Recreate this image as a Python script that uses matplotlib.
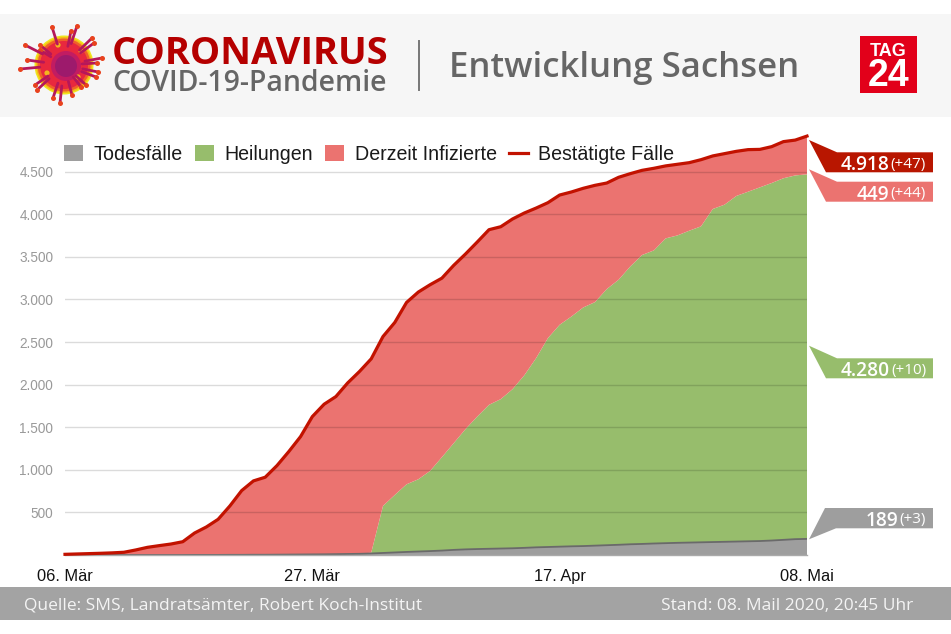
"""Corona-Entwicklung Sachsen: gestapelte Flaechen mit Kopfzeile und Wertefahnen."""

import matplotlib
matplotlib.use("Agg")
import matplotlib.pyplot as plt
import numpy as np
import pandas as pd
from matplotlib.patches import Circle, Polygon, Rectangle

# Tageswerte ab 06. Maerz 2020
deaths = [0, 0, 0, 0, 0, 0, 0, 0, 0, 0, 0, 1, 1, 1, 2, 2, 3, 3, 4, 5, 6, 7,
          8, 10, 12, 14, 18, 24, 30, 36, 41, 46, 52, 60, 66, 70, 73, 76, 79, 84,
          90, 94, 98, 102, 105, 110, 115, 120, 126, 130, 135, 139, 143, 146,
          149, 152, 155, 158, 161, 164, 170, 178, 186, 189]
recovered = [0, 0, 0, 0, 0, 0, 0, 0, 0, 0, 0, 0, 0, 0, 0, 0, 0, 0, 0, 0, 0, 0,
             0, 0, 0, 0, 9, 552, 675, 794, 848, 941, 1096, 1252, 1411, 1555,
             1690, 1754, 1868, 2026, 2221, 2452, 2605, 2698, 2801, 2859, 3007,
             3111, 3262, 3392, 3441, 3578, 3609, 3661, 3709, 3910, 3958, 4057,
             4104, 4152, 4197, 4245, 4270, 4280]
confirmed = [8, 12, 16, 20, 25, 32, 59, 90, 110, 129, 156, 258, 329, 419, 576,
             756, 870, 913, 1050, 1214, 1390, 1625, 1770, 1860, 2020, 2154,
             2303, 2565, 2730, 2965, 3087, 3173, 3250, 3400, 3533, 3674, 3819,
             3854, 3945, 4015, 4073, 4136, 4226, 4262, 4305, 4340, 4367, 4434,
             4477, 4516, 4540, 4568, 4587, 4606, 4641, 4685, 4712, 4739, 4759,
             4762, 4794, 4853, 4871, 4918]

y_ticks = [500, 1000, 1500, 2000, 2500, 3000, 3500, 4000, 4500]
y_tick_labels = ["500", "1.000", "1.500", "2.000", "2.500", "3.000", "3.500", "4.000", "4.500"]
x_tick_dates = ["2020-03-06", "2020-03-27", "2020-04-17", "2020-05-08"]
x_tick_labels = ["06. Mär", "27. Mär", "17. Apr", "08. Mai"]

DARK_RED = "#b81600"
LINE_RED = "#c21200"
PINK = "#eb7370"
GREEN = "#97bd6c"
GREY = "#9e9e9e"
TEXT_GREY = "#666666"

dates = pd.date_range("2020-03-06", periods=len(confirmed))
infected = np.array(confirmed) - np.array(deaths) - np.array(recovered)

fig = plt.figure(figsize=(9.51, 6.34), dpi=100, facecolor="white")

# Ebene in Pixelkoordinaten fuer Kopf, Fuss und Fahnen
bg = fig.add_axes([0, 0, 1, 1])
bg.set_xlim(0, 951)
bg.set_ylim(634, 0)
bg.axis("off")

bg.add_patch(Rectangle((0, 14), 951, 103, color="#f6f6f6", lw=0))
bg.add_patch(Rectangle((0, 587), 951, 33, color="#a3a3a3", lw=0))
bg.text(24, 603.5, "Quelle: SMS, Landratsämter, Robert Koch-Institut", family="Open Sans",
        fontsize=12.55, color="#f4f4f4", va="center_baseline")
bg.text(913, 603.5, "Stand: 08. Mail 2020, 20:45 Uhr", family="Open Sans",
        fontsize=12.55, color="#f4f4f4", ha="right", va="center_baseline")

bg.text(112, 64, "CORONAVIRUS", family="Open Sans", weight="bold", fontsize=27.4, color="#b50000")
bg.text(112, 91, "COVID-19-Pandemie", family="Open Sans", weight="semibold", fontsize=20.4, color=TEXT_GREY)
bg.plot([418.5, 418.5], [41, 90], color="#777777", lw=1.4)
bg.text(449, 77, "Entwicklung Sachsen", family="Open Sans", weight="semibold", fontsize=25.05, color=TEXT_GREY)

# TAG24-Logo
bg.add_patch(Rectangle((860, 36), 57, 57, color="#e2001a", lw=0))
bg.text(888.5, 56, "TAG", family="Liberation Sans", weight="bold", fontsize=13, color="white",
        ha="center", va="baseline")
bg.text(888.5, 86, "24", family="Liberation Sans", weight="bold", fontsize=27, color="white",
        ha="center", va="baseline")

# Virus-Logo
vx, vy = 64, 65
spike_tips = [(40, 45), (40, 50), (52, 27), (77, 26), (71, 31), (92, 38), (94, 43), (102, 58), (97, 63),
              (98, 72), (96, 77), (86, 85), (81, 87), (72, 95), (60, 103), (53, 98), (35, 85),
              (37, 90), (20, 69), (27, 60), (25, 45)]
for x2, y2 in spike_tips:
    x1, y1 = vx + (x2 - vx) * 0.55, vy + (y2 - vy) * 0.55
    bg.plot([x1, x2], [y1, y2], color="#b5175a", lw=2, solid_capstyle="round")
    bg.plot([x2], [y2], marker="o", ms=3.6, color="#e8421e", mew=0)
for r, c in [(29.5, "#efe61c"), (28, "#f5b81a"), (26.5, "#f0602a"), (24, "#e8283e")]:
    bg.add_patch(Circle((vx, vy), r, color=c, lw=0))
bg.add_patch(Circle((vx + 2, vy + 1), 15, color="#c21c62", lw=0))
bg.add_patch(Circle((vx + 2, vy + 1), 11, color="#9d1a6c", lw=0))
for dx, dy in [(-21, -15), (17, -14), (-17, 8), (14, 12), (-6, -20)]:
    bg.add_patch(Circle((vx + dx, vy + dy), 2.6, color="#f3b61f", lw=0))

# Wertefahnen rechts
flags = [
    ([(809, 140), (837, 152.3), (933, 152.3), (933, 172.3), (826, 172.3)], DARK_RED, "4.918", "(+47)", 162.5),
    ([(809, 169.3), (837, 181.7), (933, 181.7), (933, 201.7), (826, 201.7)], PINK, "449", "(+44)", 192),
    ([(809, 345.7), (837, 358.3), (933, 358.3), (933, 378.3), (826, 378.3)], GREEN, "4.280", "(+10)", 368.5),
    ([(809, 539.3), (836, 528.3), (933, 528.3), (933, 508), (825, 508)], GREY, "189", "(+3)", 518),
]
for pts, color, value, change, ty in flags:
    bg.add_patch(Polygon(pts, closed=True, color=color, lw=0))
    t = bg.text(926, ty, change, family="Open Sans", fontsize=11, color="white", ha="right", va="center_baseline")
    fig.canvas.draw()
    left = t.get_window_extent().x0
    bg.text(left - 1.5, ty, value, family="Open Sans", weight="semibold", fontsize=13.7, color="white",
            ha="right", va="center_baseline")

# Diagramm
ax = fig.add_axes([65 / 951, (634 - 555) / 634, 742 / 951, 425 / 634])
ax.patch.set_alpha(0)
polys = ax.stackplot(dates, deaths, recovered, infected, colors=[GREY, GREEN, PINK],
                     labels=["Todesfälle", "Heilungen", "Derzeit Infizierte"], lw=0)
ax.plot(dates, deaths, color="#6a6a6a", lw=1.3, zorder=2)
line, = ax.plot(dates, confirmed, color=LINE_RED, lw=2.3, zorder=3, label="Bestätigte Fälle",
                solid_joinstyle="round", clip_on=False)

ax.set_xlim(dates[0], dates[-1])
ax.set_ylim(0, 425 / 0.08518)
ax.set_yticks(y_ticks)
ax.set_yticklabels(y_tick_labels, family="Liberation Sans", fontsize=9.8, color="#999999")
ax.set_xticks(pd.to_datetime(x_tick_dates))
ax.set_xticklabels(x_tick_labels, family="Liberation Sans", fontsize=11.8, color="#111111")
ax.tick_params(axis="both", length=0)
ax.tick_params(axis="y", pad=8.5)
ax.tick_params(axis="x", pad=10)
ax.grid(axis="y", color="black", alpha=0.14, lw=1)
ax.set_axisbelow(False)
for side in ["top", "right", "left"]:
    ax.spines[side].set_visible(False)
ax.spines["bottom"].set_color("#aaaaaa")
ax.spines["bottom"].set_linewidth(1)

leg = ax.legend(ncol=4, loc="upper left", bbox_to_anchor=(64 / 951, 1 - 145 / 634), bbox_transform=fig.transFigure,
                frameon=False, borderpad=0, borderaxespad=0, handlelength=0.96, handleheight=0.9,
                handletextpad=0.55, columnspacing=0.62,
                prop={"family": "Liberation Sans", "size": 14.1})
for text in leg.get_texts():
    text.set_color("#1a1a1a")

fig.savefig("out.png", dpi=100)
